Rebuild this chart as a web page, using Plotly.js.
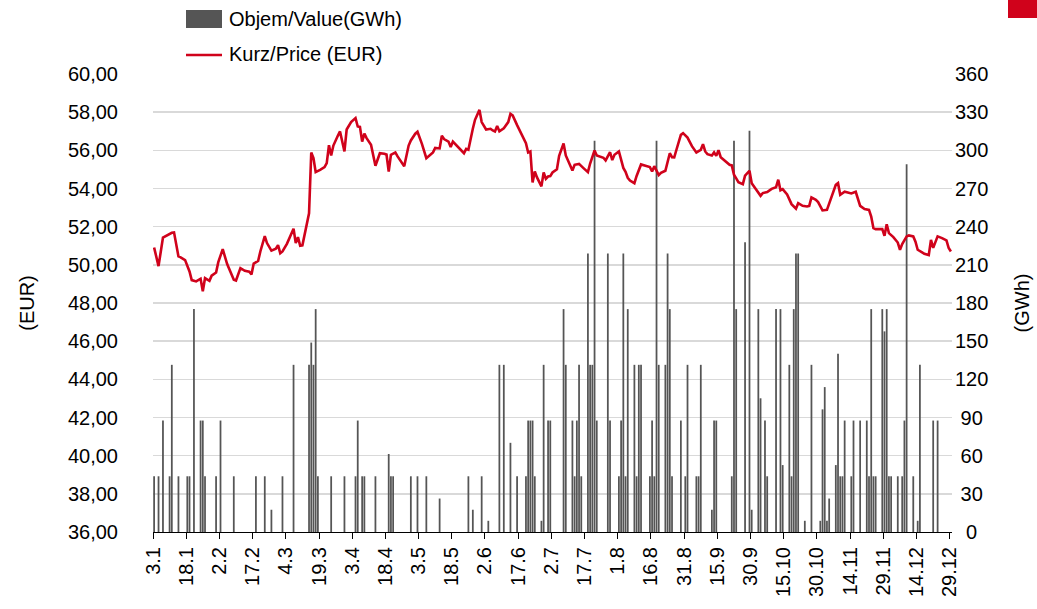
<!DOCTYPE html>
<html>
<head>
<meta charset="utf-8">
<script src="https://cdn.plot.ly/plotly-3.0.1.min.js"></script>
<style>
  html, body { margin: 0; padding: 0; background: #ffffff; }
  #chart { width: 1037px; height: 609px; }
</style>
</head>
<body>
<div id="chart"></div>
<script>
// ---------------- DATA ----------------
const YEAR = 2011;

// X-axis tick labels (every 15 days)
const tickLabels = ['3.1','18.1','2.2','17.2','4.3','19.3','3.4','18.4','3.5','18.5','2.6','17.6',
  '2.7','17.7','1.8','16.8','31.8','15.9','30.9','15.10','30.10','14.11','29.11','14.12','29.12'];

// Traded volume (GWh) – bar series
const volumeDates = ['3.1','5.1','7.1','10.1','11.1','14.1','18.1','19.1','21.1','24.1','25.1','26.1','31.1',
  '2.2','8.2','18.2','22.2','25.2','2.3','7.3','14.3','15.3','16.3','17.3','18.3','24.3','30.3',
  '4.4','5.4','7.4','8.4','13.4','19.4','20.4','21.4','29.4','2.5','6.5','12.5','25.5','27.5','31.5',
  '3.6','8.6','10.6','13.6','16.6','20.6','21.6','22.6','23.6','24.6','27.6','28.6','30.6',
  '1.7','7.7','8.7','11.7','12.7','13.7','14.7','15.7','18.7','19.7','20.7','21.7','22.7','27.7','28.7',
  '1.8','2.8','3.8','4.8','5.8','8.8','9.8','10.8','11.8','15.8','16.8','17.8','18.8','19.8','22.8','23.8','24.8','25.8','29.8','31.8',
  '1.9','5.9','6.9','7.9','12.9','13.9','14.9','21.9','22.9','23.9','27.9','29.9','30.9',
  '3.10','4.10','6.10','7.10','11.10','13.10','14.10','17.10','18.10','19.10','20.10','21.10','24.10','27.10','31.10',
  '1.11','2.11','3.11','4.11','7.11','8.11','9.11','10.11','11.11','14.11','15.11','18.11','21.11','22.11','23.11','24.11','25.11','28.11','29.11','30.11',
  '1.12','2.12','5.12','7.12','8.12','9.12','12.12','14.12','15.12','21.12','23.12'];
const volumeGWh = [43.8,43.8,87.6,43.8,131.4,43.8,43.8,43.8,175.2,87.6,87.6,43.8,43.8,
  87.6,43.8,43.8,43.8,17.5,43.8,131.4,131.4,148.9,131.4,175.2,43.8,43.8,43.8,
  43.8,87.6,43.8,43.8,43.8,61.3,43.8,43.8,43.8,43.8,43.8,26.3,43.8,17.5,43.8,
  8.8,131.4,131.4,70.1,43.8,43.8,87.6,87.6,87.6,43.8,8.8,131.4,87.6,
  87.6,175.2,131.4,87.6,43.8,87.6,131.4,43.8,219,131.4,131.4,307.6,87.6,219,87.6,
  43.8,87.6,219,43.8,175.2,131.4,43.8,131.4,131.4,43.8,87.6,43.8,307.6,131.4,131.4,219,175.2,43.8,87.6,43.8,
  131.4,43.8,43.8,131.4,17.5,87.6,87.6,43.8,307.6,175.2,227.8,315.4,17.5,
  175.2,105.1,87.6,43.8,175.2,175.2,52.6,131.4,43.8,175.2,219,219,8.8,131.4,8.8,
  96.4,113.9,8.8,26.3,52.6,140.2,43.8,43.8,87.6,43.8,87.6,87.6,87.6,43.8,175.2,43.8,43.8,175.2,157.7,175.2,
  43.8,43.8,43.8,43.8,87.6,289.1,43.8,8.8,131.4,87.6,87.6];

// Price (EUR) – line series
const priceDates = ['3.1','5.1','7.1','9.1','11.1','12.1','14.1','15.1','17.1','19.1','20.1','22.1','24.1','25.1','26.1','28.1','29.1','31.1',
  '1.2','3.2','5.2','8.2','9.2','11.2','13.2','15.2','16.2','17.2','19.2','20.2','22.2','23.2','25.2','27.2','28.2',
  '1.3','2.3','4.3','7.3','8.3','9.3','10.3','11.3','14.3','15.3','16.3','17.3','19.3','21.3','22.3','23.3','24.3','25.3','27.3','28.3','30.3','31.3',
  '2.4','4.4','5.4','6.4','7.4','8.4','9.4','11.4','13.4','15.4','17.4','18.4','19.4','20.4','22.4','23.4','26.4','28.4','29.4',
  '1.5','2.5','4.5','6.5','7.5','9.5','10.5','12.5','13.5','14.5','16.5','17.5','18.5','20.5','22.5','23.5','24.5','25.5','27.5','28.5','30.5','31.5',
  '2.6','4.6','5.6','6.6','7.6','8.6','10.6','12.6','13.6','14.6','16.6','18.6','20.6','21.6','22.6','23.6','24.6','25.6','27.6','28.6','29.6','30.6',
  '1.7','2.7','4.7','5.7','7.7','8.7','10.7','11.7','12.7','14.7','16.7','18.7','19.7','21.7','22.7','25.7','26.7','28.7','29.7','30.7',
  '1.8','3.8','4.8','5.8','6.8','8.8','9.8','11.8','13.8','15.8','16.8','17.8','19.8','20.8','22.8','24.8','25.8','26.8','27.8','29.8','30.8',
  '1.9','3.9','5.9','7.9','8.9','9.9','10.9','12.9','13.9','14.9','15.9','16.9','18.9','20.9','21.9','22.9','23.9','24.9','26.9','27.9','29.9','30.9',
  '2.10','4.10','5.10','7.10','9.10','11.10','12.10','13.10','14.10','16.10','18.10','20.10','21.10','23.10','25.10','26.10','27.10','29.10','30.10',
  '1.11','3.11','5.11','7.11','8.11','9.11','11.11','13.11','14.11','16.11','18.11','20.11','22.11','23.11','24.11','25.11','28.11','29.11','30.11',
  '1.12','3.12','5.12','6.12','7.12','9.12','10.12','12.12','13.12','14.12','16.12','17.12','19.12','20.12','21.12','23.12','25.12','27.12','28.12','29.12'];
const priceEUR = [50.91,49.93,51.43,51.57,51.68,51.70,50.44,50.39,50.25,49.65,49.20,49.13,49.27,48.62,49.30,49.16,49.43,49.60,
  50.14,50.82,50.04,49.22,49.18,49.83,49.69,49.64,49.50,50.07,50.20,50.70,51.50,51.14,50.74,50.84,51.03,
  50.61,50.70,51.10,51.89,51.14,51.45,51.00,51.02,52.70,55.89,55.59,54.86,54.98,55.12,55.33,56.27,55.73,56.25,56.76,56.99,55.94,57.09,
  57.48,57.69,57.25,57.23,56.46,56.88,56.64,56.29,55.19,55.85,55.82,55.78,54.89,55.76,55.89,55.68,55.17,56.25,56.52,
  56.87,56.97,56.34,55.59,55.70,55.89,56.13,56.10,56.76,56.59,56.46,56.18,56.46,56.22,55.99,55.85,56.08,56.03,57.13,57.60,58.12,57.48,
  57.09,57.13,57.04,56.99,57.27,57.00,57.16,57.48,57.91,57.83,57.32,56.85,56.38,55.89,55.94,54.32,54.89,54.58,54.11,54.84,54.51,54.63,
  54.65,54.84,55.01,55.71,56.36,55.73,55.24,54.94,55.24,55.29,55.07,54.86,55.31,55.99,55.73,55.61,55.47,55.90,55.49,55.77,
  55.94,55.08,54.87,54.56,54.42,54.28,54.66,55.26,55.19,55.12,54.89,55.17,54.70,54.82,54.93,55.85,55.64,55.63,56.03,56.81,56.90,
  56.67,56.22,55.89,56.03,56.32,55.94,55.80,55.73,55.89,55.71,56.01,55.64,55.45,55.24,55.21,54.72,54.53,54.33,54.23,54.67,54.93,54.28,
  53.95,53.62,53.76,53.81,53.98,54.07,54.46,53.91,53.97,53.69,53.18,52.94,53.23,53.09,53.06,53.09,53.53,53.41,53.29,
  52.85,52.88,53.58,54.19,54.28,53.67,53.83,53.79,53.74,53.83,53.09,52.92,52.88,52.53,51.92,51.87,51.87,51.52,52.13,
  51.66,51.45,51.17,50.79,51.09,51.49,51.54,51.49,51.21,50.79,50.65,50.58,50.51,51.31,50.89,51.49,51.40,51.28,50.88,50.70];

// Axis tick values
const eurTicks = [36,38,40,42,44,46,48,50,52,54,56,58,60];
const gwhTicks = [0,30,60,90,120,150,180,210,240,270,300,330,360];

// ---------------- helpers ----------------
function toISO(dm) {
  const p = dm.split('.');
  return YEAR + '-' + p[1].padStart(2, '0') + '-' + p[0].padStart(2, '0');
}
const NB = '\u00a0';
function padCenter(v) {           // centre the right-hand labels like the original
  const s = String(v);
  return NB.repeat(3 - s.length) + s;
}

const FONT = 'Liberation Sans, Arial, Helvetica, sans-serif';
const RED = '#d0021b';
const GREY = '#555555';
const DAY = 86400000;

const traces = [
  {
    type: 'bar',
    name: 'Objem/Value(GWh)',
    x: volumeDates.map(toISO),
    y: volumeGWh,
    xperiod: DAY,
    xperiodalignment: 'middle',
    marker: { color: GREY, line: { width: 0 } },
    yaxis: 'y',
    showlegend: false,
    hoverinfo: 'skip'
  },
  {
    type: 'scatter',
    mode: 'lines',
    name: 'Kurz/Price (EUR)',
    x: priceDates.map(toISO),
    y: priceEUR,
    xperiod: DAY,
    xperiodalignment: 'middle',
    line: { color: RED, width: 2.6 },
    yaxis: 'y2',
    showlegend: false,
    hoverinfo: 'skip'
  }
];

// plot-area geometry for legend placement (paper coordinates)
const L = 153, R = 85, T = 74, B = 77, W = 1037, H = 609;
const PW = W - L - R, PH = H - T - B;
const px = v => (v - L) / PW;
const py = v => (H - B - v) / PH;

const layout = {
  width: W, height: H,
  margin: { l: L, r: R, t: T, b: B, pad: 0 },
  paper_bgcolor: '#ffffff',
  plot_bgcolor: '#ffffff',
  font: { family: FONT, size: 20, color: '#000000' },
  separators: ', ',
  bargap: 0.2,
  showlegend: false,
  xaxis: {
    type: 'date',
    range: [toISO('3.1'), toISO('30.12')],
    tickmode: 'array',
    tickvals: tickLabels.map(toISO),
    ticktext: tickLabels,
    tickangle: -90,
    ticks: 'outside',
    ticklen: 6,
    tickwidth: 1,
    tickcolor: '#000000',
    showline: true,
    linecolor: '#000000',
    linewidth: 1,
    showgrid: false,
    zeroline: false,
    tickfont: { family: FONT, size: 20, color: '#000000' },
    fixedrange: true
  },
  yaxis: {
    side: 'right',
    range: [0, 360],
    tickmode: 'array',
    tickvals: gwhTicks,
    ticktext: gwhTicks.map(padCenter),
    showgrid: true,
    gridcolor: '#d9d9d9',
    gridwidth: 1.5,
    zeroline: false,
    showline: false,
    ticks: '',
    ticklabelstandoff: 2,
    tickfont: { family: FONT, size: 20, color: '#000000' },
    title: { text: '(GWh)', font: { family: FONT, size: 20, color: '#000000' }, standoff: 27 },
    fixedrange: true
  },
  yaxis2: {
    side: 'left',
    overlaying: 'y',
    range: [36, 60],
    tickmode: 'array',
    tickvals: eurTicks,
    tickformat: '.2f',
    showgrid: false,
    zeroline: false,
    showline: false,
    ticks: '',
    ticklabelstandoff: 34,
    tickfont: { family: FONT, size: 20, color: '#000000' },
    title: { text: '(EUR)', font: { family: FONT, size: 20, color: '#000000' }, standoff: 27 },
    fixedrange: true
  },
  shapes: [
    { type: 'rect', xref: 'paper', yref: 'paper', x0: px(186), x1: px(222), y0: py(28), y1: py(10),
      fillcolor: GREY, line: { width: 0 } },
    { type: 'line', xref: 'paper', yref: 'paper', x0: px(186), x1: px(222), y0: py(55), y1: py(55),
      line: { color: RED, width: 2.6 } },
    { type: 'rect', xref: 'paper', yref: 'paper', x0: px(1008), x1: px(1040), y0: py(18), y1: py(-2),
      fillcolor: RED, line: { width: 0 } }
  ],
  annotations: [
    { xref: 'paper', yref: 'paper', x: px(227), y: py(19), xanchor: 'left', yanchor: 'middle',
      text: traces[0].name, showarrow: false, font: { family: FONT, size: 20, color: '#000000' } },
    { xref: 'paper', yref: 'paper', x: px(227), y: py(54), xanchor: 'left', yanchor: 'middle',
      text: traces[1].name, showarrow: false, font: { family: FONT, size: 20, color: '#000000' } }
  ]
};

Plotly.newPlot('chart', traces, layout, { displayModeBar: false, staticPlot: true });
</script>
</body>
</html>
